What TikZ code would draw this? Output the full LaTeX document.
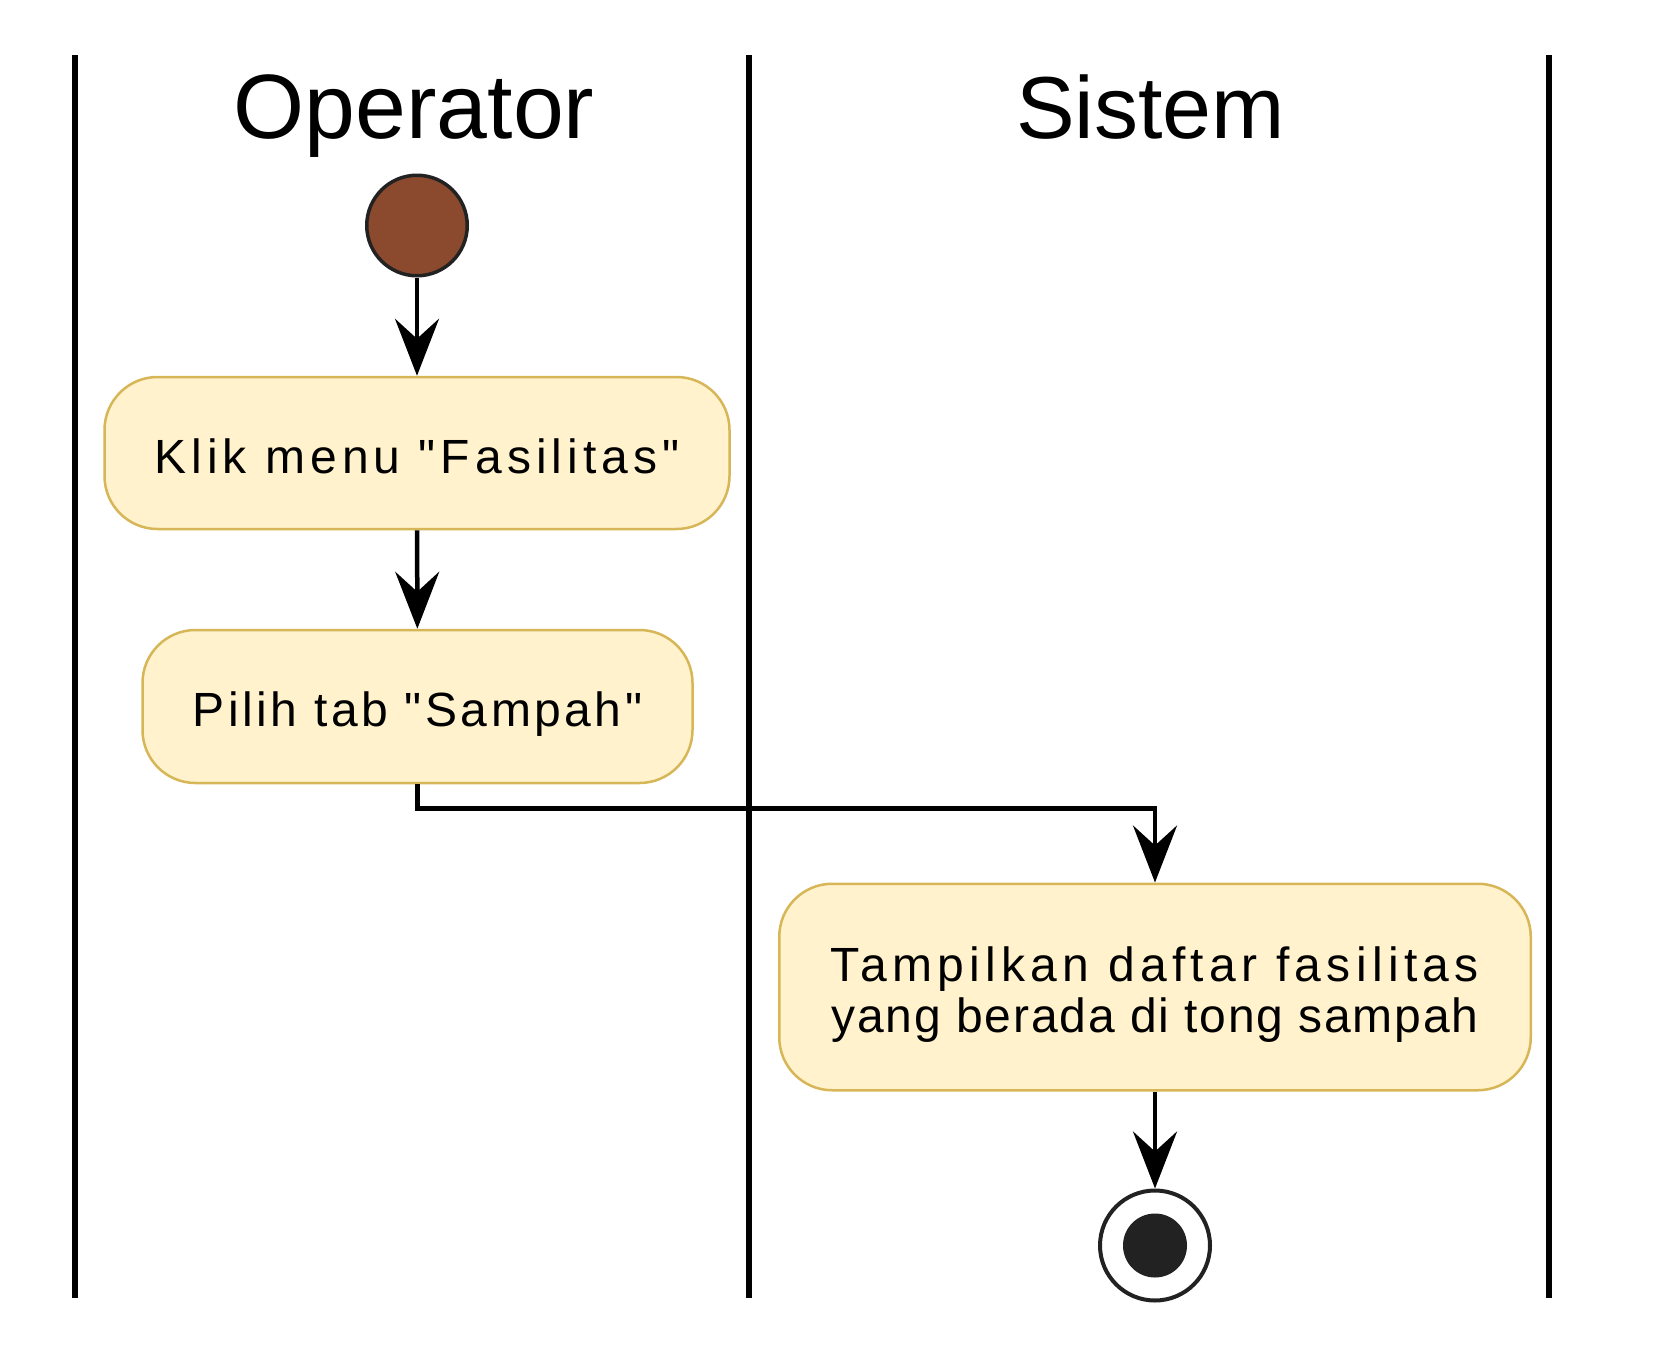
\documentclass[tikz,border=0pt]{standalone}
\usepackage{fontspec}
\setmainfont{Liberation Sans}[Ligatures=TeXOff]
\usetikzlibrary{arrows.meta}
\definecolor{actfill}{HTML}{FFF2CC}
\definecolor{actdraw}{HTML}{D6B656}
\definecolor{startfill}{HTML}{8B4A2E}
\definecolor{darkline}{HTML}{222222}
\begin{document}
\begin{tikzpicture}[x=1pt,y=-1pt,
  lane/.style={line width=6.5pt, black},
  act/.style={draw=actdraw, fill=actfill, line width=2.5pt, rounded corners=53pt,
    inner sep=0pt, align=center, text height=40pt, text depth=0pt,
    font=\fontsize{48}{51}\selectfont},
  flow/.style={line width=4.5pt, black, -{Stealth[length=57pt,width=44pt,inset=20pt]}},
  hdr/.style={anchor=base, inner sep=0pt}]
\useasboundingbox (0,0) rectangle (1655,1360);
% swimlane separators
\draw[lane] (75,55) -- (75,1298);
\draw[lane] (749,55) -- (749,1298);
\draw[lane] (1549,55) -- (1549,1298);
% headers
\node[hdr, font=\fontsize{91.4}{100}\selectfont] (hop) at (414,138) {Operator};
\node[hdr, font=\fontsize{88}{100}\selectfont] (hsys) at (1150.5,138) {Sistem};
% start
\node[circle, draw=darkline, fill=startfill, line width=3.5pt, minimum size=100.5pt, inner sep=0pt] (start) at (417,225.5) {};
% activities
\node[act, minimum width=625pt, minimum height=152pt] (b1) at (417,453)
  {\addfontfeatures{LetterSpace=10.5}Klik menu "Fasilitas"};
\node[act, minimum width=550pt, minimum height=153pt] (b2) at (417.5,706.5)
  {\addfontfeatures{LetterSpace=7.3}Pilih tab "Sampah"};
\node[act, minimum width=751.5pt, minimum height=206.5pt, text height=90pt] (b3) at (1155,987)
  {{\addfontfeatures{LetterSpace=11.1}Tampilkan daftar fasilitas}\\{\addfontfeatures{LetterSpace=3.8}yang berada di tong sampah}};
% end
\node[circle, draw=darkline, fill=white, line width=4pt, minimum size=110pt, inner sep=0pt] (end) at (1155,1245.5) {};
\fill[darkline] (end.center) circle (32);
% flows
\draw[flow] (start) -- (b1);
\draw[flow] (b1) -- (b2);
\draw[flow] (b2.south) -- ++(0,24) -| (b3.north);
\draw[flow] (b3) -- (end);
\end{tikzpicture}
\end{document}
